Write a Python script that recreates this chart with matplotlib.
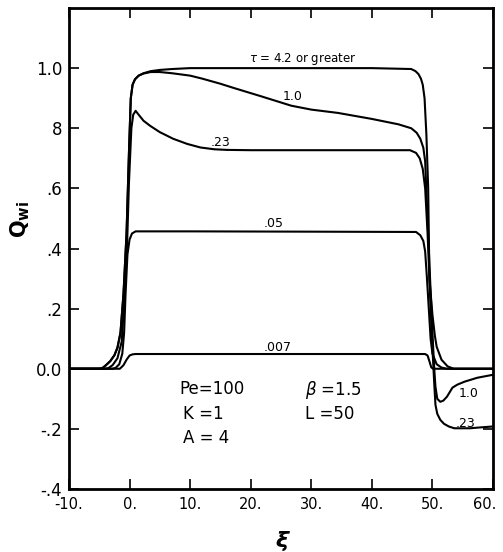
import matplotlib
matplotlib.use("Agg")
import matplotlib.pyplot as plt
from matplotlib.transforms import ScaledTranslation

# curve data: xi (position) and Q_wi for each tau
xi_42 = [-10, -5, -4.5, -4.0, -3.2, -2.5, -2.0, -1.5, -1.0, -0.5, -0.1, 0.2, 0.5,
         0.9, 1.5, 2.3, 3.5, 5.0, 7.0, 10.0, 20, 30, 40, 46.5, 47.2, 47.7, 48.1,
         48.4, 48.7, 49.0, 49.3, 49.5, 50.0, 50.4, 50.7, 51.5, 52.5, 53.5, 60]
q_42 = [0, 0, 0.002, 0.01, 0.025, 0.045, 0.07, 0.12, 0.25, 0.45, 0.72, 0.9, 0.945,
        0.963, 0.975, 0.983, 0.99, 0.994, 0.997, 1.0, 1.0, 1.0, 1.0, 0.997, 0.99,
        0.98, 0.965, 0.945, 0.9, 0.78, 0.6, 0.3, 0.18, 0.11, 0.073, 0.03, 0.008, 0, 0]

xi_10 = [-10, -5, -4.5, -4.0, -3.2, -2.5, -2.0, -1.5, -1.0, -0.5, -0.1, 0.2, 0.5,
         0.9, 1.5, 2.3, 3.5, 5.0, 7.0, 10.0, 12.0, 15.0, 17.2, 21.6, 26.7, 30.0,
         34.4, 40.0, 44.4, 46.5, 47.4, 48.0, 48.5, 48.8, 49.0, 49.5, 50.0, 50.3,
         50.5, 50.8, 51.3, 51.8, 52.4, 53.3, 54.1, 55.3, 57.4, 60]
q_10 = [0, 0, 0.002, 0.01, 0.025, 0.045, 0.07, 0.12, 0.25, 0.45, 0.72, 0.9, 0.945,
        0.963, 0.975, 0.982, 0.987, 0.987, 0.983, 0.975, 0.965, 0.948, 0.934,
        0.907, 0.875, 0.862, 0.851, 0.831, 0.813, 0.80, 0.785, 0.765, 0.735, 0.69,
        0.59, 0.35, 0.12, 0.0, -0.06, -0.1, -0.11, -0.106, -0.093, -0.063, -0.053,
        -0.043, -0.03, -0.02]

xi_23 = [-10, -4, -3.5, -2.8, -2.0, -1.3, -0.8, -0.4, -0.1, 0.3, 0.6, 1.0, 1.5,
         2.3, 3.4, 5.0, 7.2, 9.5, 11.7, 14.0, 16.1, 20, 30, 40, 46.3, 47.3, 47.9,
         48.4, 48.8, 49.2, 49.7, 50.1, 50.3, 50.5, 50.8, 51.3, 51.9, 52.7, 53.6,
         56.2, 58.0, 60]
q_23 = [0, 0, 0.002, 0.012, 0.035, 0.09, 0.25, 0.42, 0.62, 0.8, 0.845, 0.858,
        0.845, 0.825, 0.808, 0.787, 0.765, 0.748, 0.736, 0.73, 0.728, 0.727,
        0.727, 0.727, 0.727, 0.718, 0.7, 0.665, 0.6, 0.45, 0.2, 0.03, -0.05,
        -0.12, -0.15, -0.17, -0.183, -0.192, -0.198, -0.198, -0.195, -0.192]

xi_05 = [-10, -2.8, -2.3, -1.7, -1.2, -0.9, -0.66, -0.35, 0.0, 0.4, 1.0, 10, 30,
         47.3, 48.0, 48.5, 48.8, 49.1, 49.4, 49.7, 50.0, 50.7, 51.5, 52.3, 60]
q_05 = [0, 0, 0.003, 0.015, 0.05, 0.12, 0.25, 0.38, 0.43, 0.45, 0.457, 0.457,
        0.456, 0.455, 0.444, 0.425, 0.39, 0.3, 0.2, 0.1, 0.05, 0.015, 0.004, 0, 0]

xi_007 = [-10, -1.6, -1.0, -0.5, 0.0, 0.5, 1.0, 20, 48.8, 49.2, 49.5, 49.8, 50.1, 60]
q_007 = [0, 0, 0.012, 0.03, 0.044, 0.048, 0.049, 0.049, 0.049, 0.044, 0.025,
         0.005, 0, 0]

x_ticks = [-10, 0, 10, 20, 30, 40, 50, 60]
x_ticklabels = ["-10.", "0.", "10.", "20.", "30.", "40.", "50.", "60."]
y_ticks = [-0.4, -0.2, 0.0, 0.2, 0.4, 0.6, 0.8, 1.0]
y_ticklabels = ["-.4", "-.2", "0.0", ".2", ".4", ".6", "8", "1.0"]

plt.rcParams["font.family"] = ["DejaVu Sans"]

fig = plt.figure(figsize=(5.03, 5.52), dpi=100)
ax = fig.add_axes([69 / 503, 1 - 489 / 552, 424 / 503, 481 / 552])

for xs, qs in [(xi_42, q_42), (xi_10, q_10), (xi_23, q_23), (xi_05, q_05), (xi_007, q_007)]:
    ax.plot(xs, qs, color="black", lw=1.5, solid_joinstyle="round")

ax.set_xlim(-10, 60)
ax.set_ylim(-0.4, 1.2)
ax.set_xticks(x_ticks)
ax.set_xticklabels(x_ticklabels, fontsize=10.5)
ax.set_yticks(y_ticks)
ax.set_yticklabels(y_ticklabels, fontsize=12)
ax.tick_params(direction="in", length=7, width=1.2, top=True, right=True)
ax.tick_params(axis="x", pad=6)
ax.tick_params(axis="y", pad=5)
for s in ax.spines.values():
    s.set_linewidth(2.0)

# last x label sits against the edge in the original; nudge it inside
last = ax.get_xticklabels()[-1]
last.set_transform(last.get_transform() + ScaledTranslation(-6 / 72, 0, fig.dpi_scale_trans))

# curve labels
ax.text(19.7, 1.03, r"$\tau$ = 4.2 or greater", fontsize=8.5, ha="left", va="center")
ax.text(26.9, 0.904, "1.0", fontsize=9, ha="center", va="center")
ax.text(15.0, 0.752, ".23", fontsize=9, ha="center", va="center")
ax.text(23.8, 0.483, ".05", fontsize=9, ha="center", va="center")
ax.text(24.4, 0.07, ".007", fontsize=9, ha="center", va="center")
ax.text(55.9, -0.083, "1.0", fontsize=9, ha="center", va="center")
ax.text(55.5, -0.182, ".23", fontsize=9, ha="center", va="center")

# parameters
ax.text(8.3, -0.066, "Pe=100", fontsize=12, ha="left", va="center")
ax.text(8.9, -0.152, "K =1", fontsize=12, ha="left", va="center")
ax.text(8.9, -0.232, "A = 4", fontsize=12, ha="left", va="center")
ax.text(29.0, -0.07, r"$\beta$ =1.5", fontsize=12, ha="left", va="center")
ax.text(29.0, -0.149, "L =50", fontsize=12, ha="left", va="center")

fig.text(20 / 503, 1 - 219 / 552, r"$\mathbf{Q_{wi}}$", fontsize=15,
         rotation=90, ha="center", va="center")
fig.text(282 / 503, 1 - 541 / 552, "ξ", fontsize=16, fontweight="bold",
         style="italic", ha="center", va="center")

fig.savefig("out.png", dpi=100)
